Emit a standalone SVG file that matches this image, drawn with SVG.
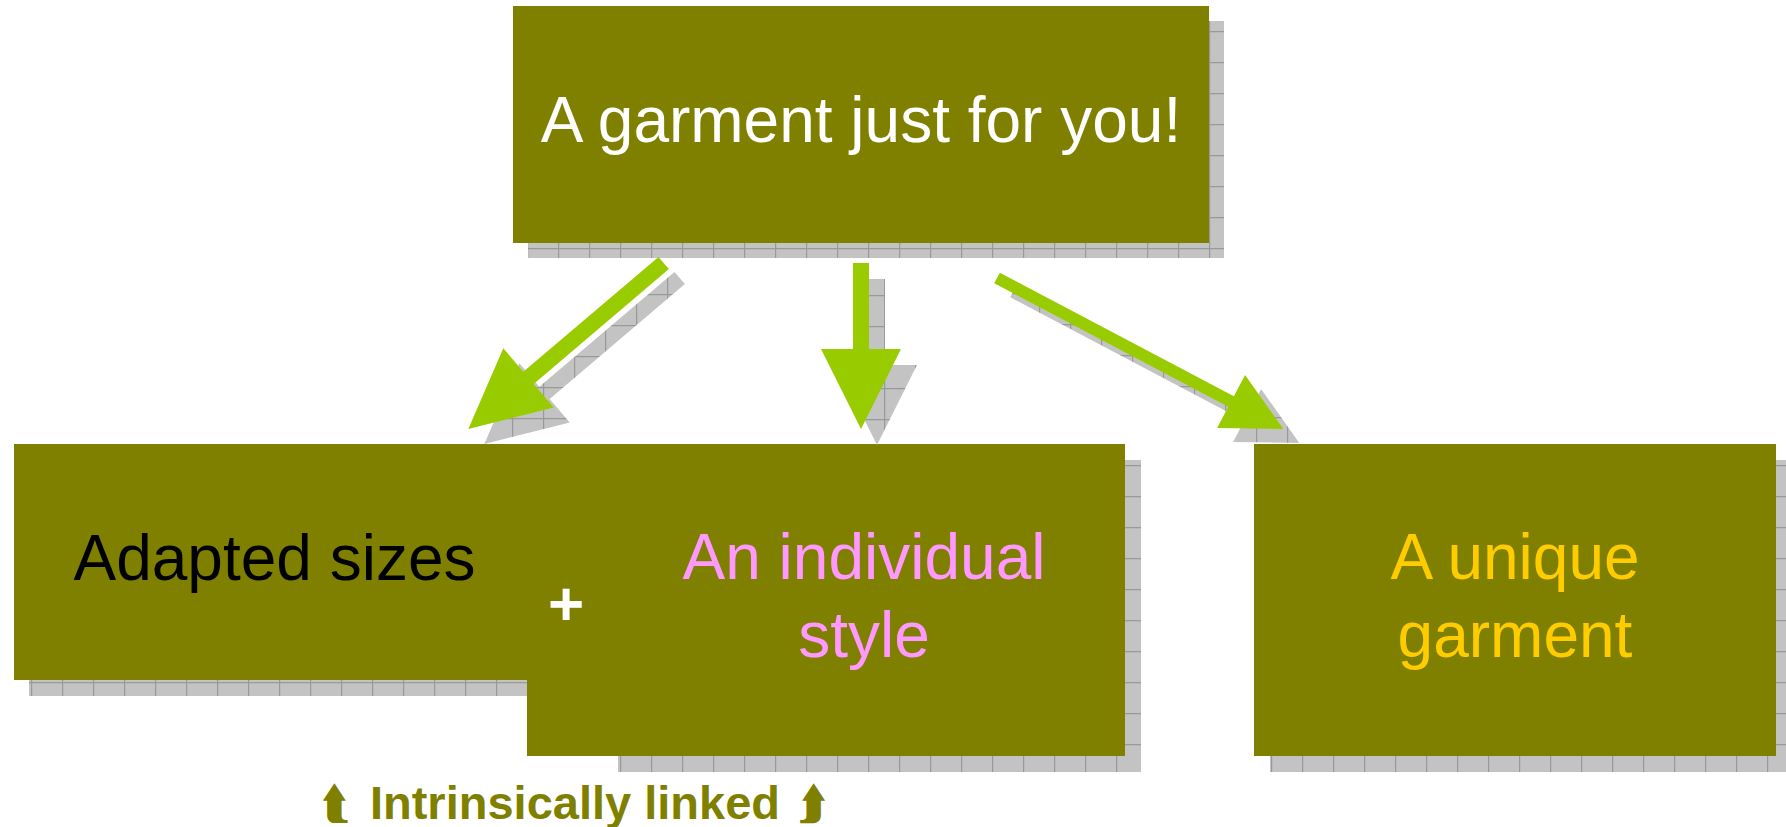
<svg xmlns="http://www.w3.org/2000/svg" width="1786" height="827" viewBox="0 0 1786 827">
<defs>
<pattern id="grid" patternUnits="userSpaceOnUse" width="31" height="31">
<rect width="31" height="31" fill="#c3c3c3"/>
<path d="M0 0.5H31M0.5 0V31" stroke="#999999" stroke-width="1.4" fill="none"/>
</pattern>
<style>
.box{fill:#808000}
.shadow{fill:url(#grid)}
.arrow{fill:#99cc00}
.txt{font-family:"Liberation Sans",Arial,sans-serif;font-size:64px;text-anchor:middle}
.lbl{font-family:"Liberation Sans",Arial,sans-serif;font-size:47px;font-weight:bold;fill:#808000;text-anchor:middle}
.sym{font-family:"DejaVu Sans","Noto Sans",sans-serif;font-size:44px;font-weight:bold;fill:#808000;text-anchor:middle}
</style>
</defs>
<rect width="1786" height="827" fill="#ffffff"/>

<g id="node-top">
<rect class="shadow" x="528" y="21" width="696" height="237"/>
<rect class="box" x="513" y="6" width="696" height="237"/>
<text class="txt" x="861" y="142" fill="#ffffff">A garment just for you!</text>
</g>

<g id="node-adapted">
<rect class="shadow" x="29" y="460" width="560" height="236"/>
<rect class="box" x="14" y="444" width="590" height="236"/>
<text class="txt" x="274.5" y="580" fill="#000000">Adapted sizes</text>
</g>

<g id="node-style">
<rect class="shadow" x="618" y="460" width="523" height="312"/>
<rect class="box" x="527" y="444" width="598" height="312"/>
<text class="txt" x="864" y="579" fill="#ff99ff">An individual</text>
<text class="txt" x="864" y="657" fill="#ff99ff">style</text>
</g>

<g id="node-plus">
<text x="566" y="625" font-family="'Liberation Sans',Arial,sans-serif" font-size="62" font-weight="bold" fill="#ffffff" text-anchor="middle">+</text>
</g>

<g id="node-unique">
<rect class="shadow" x="1270" y="460" width="522" height="312"/>
<rect class="box" x="1254" y="444" width="522" height="312"/>
<text class="txt" x="1515" y="579" fill="#ffcc00">A unique</text>
<text class="txt" x="1515" y="657" fill="#ffcc00">garment</text>
</g>

<g id="connectors">
<g class="shadow">
<polygon transform="translate(16,15)" points="658.5,256.9 668.9,269.1 533.7,384.0 553.7,407.6 468.3,429 503.3,348.2 523.3,371.8"/>
<polygon transform="translate(16,16)" points="853,263 869,263 869,349 901,349 861,429 821,349 853,349"/>
<polygon transform="translate(16,14)" points="999.8,272.7 1233.9,396.2 1245.1,375.0 1283.3,429 1217.1,428.0 1228.3,406.8 994.2,283.3"/>
</g>
<polygon class="arrow" points="658.5,256.9 668.9,269.1 533.7,384.0 553.7,407.6 468.3,429 503.3,348.2 523.3,371.8"/>
<polygon class="arrow" points="853,263 869,263 869,349 901,349 861,429 821,349 853,349"/>
<polygon class="arrow" points="999.8,272.7 1233.9,396.2 1245.1,375.0 1283.3,429 1217.1,428.0 1228.3,406.8 994.2,283.3"/>
</g>

<g id="label-linked">
<text class="sym" x="336" y="819">⮬</text>
<text class="lbl" x="575" y="819">Intrinsically linked</text>
<text class="sym" x="812" y="819">⮭</text>
</g>
</svg>
